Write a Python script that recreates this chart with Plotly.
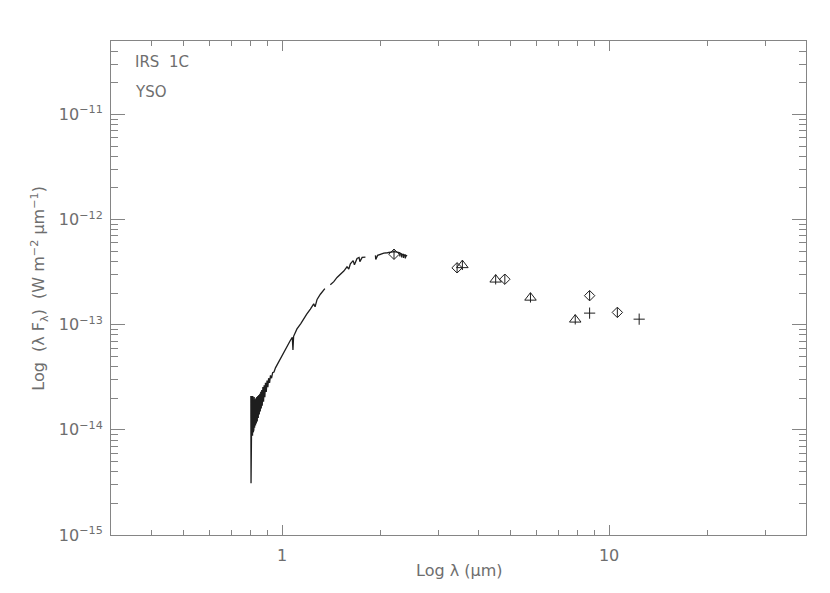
import plotly.graph_objects as go

# spectrum (micron, W m^-2 um^-1), None = gap
spec_wave = [0.8030, 0.8040, 0.8050, 0.8065, 0.8080, 0.8095, 0.8110, 0.8125, 0.8140, 0.8160,
             0.8180, 0.8200, 0.8220, 0.8245, 0.8270, 0.8295, 0.8320, 0.8345, 0.8370, 0.8400,
             0.8430, 0.8460, 0.8490, 0.8520, 0.8550, 0.8580, 0.8610, 0.8640, 0.8670, 0.8700,
             0.8740, 0.8780, 0.8820, 0.8860, 0.8900, 0.8950, 0.9000, 0.9050, 0.9100, 0.9160,
             0.9220, 0.9290, 0.9360, 0.9450, 0.955, 0.970, 0.990, 1.010, 1.035, 1.060,
             1.075, 1.080, 1.085, 1.111, 1.140, 1.165, 1.190, 1.221, 1.250, 1.262,
             1.270, 1.280, 1.310, 1.342, 1.352, None,
             1.405, 1.440, 1.473, 1.500, 1.545, 1.580, 1.600, 1.618, 1.650, 1.665,
             1.696, 1.720, 1.730, 1.758, 1.799, None,
             1.930, 1.935, 1.960, 2.000, 2.048, 2.100, 2.146, 2.200, 2.250, 2.290,
             2.293, 2.300, 2.320, 2.323, 2.330, 2.350, 2.353, 2.360, 2.380, 2.383,
             2.390, 2.414]
spec_flux = [2.1e-14, 3.1e-15, 2.05e-14, 8.5e-15, 2.1e-14, 9.0e-15, 1.95e-14, 8.8e-15, 2.1e-14, 9.5e-15,
             1.9e-14, 1.0e-14, 2.05e-14, 1.05e-14, 1.95e-14, 1.1e-14, 2.0e-14, 1.15e-14, 2.05e-14, 1.2e-14,
             2.1e-14, 1.3e-14, 2.15e-14, 1.4e-14, 2.2e-14, 1.5e-14, 2.3e-14, 1.6e-14, 2.4e-14, 1.7e-14,
             2.55e-14, 1.85e-14, 2.65e-14, 2.05e-14, 2.8e-14, 2.3e-14, 2.95e-14, 2.55e-14, 3.1e-14, 2.8e-14,
             3.3e-14, 3.1e-14, 3.5e-14, 3.55e-14, 3.89e-14, 4.27e-14, 4.79e-14, 5.37e-14, 6.17e-14, 7.08e-14,
             7.59e-14, 5.75e-14, 7.76e-14, 9.12e-14, 1.02e-13, 1.15e-13, 1.26e-13, 1.41e-13, 1.58e-13, 1.48e-13,
             1.66e-13, 1.74e-13, 1.95e-13, 2.14e-13, 2.21e-13, None,
             2.40e-13, 2.57e-13, 2.82e-13, 2.95e-13, 3.24e-13, 3.55e-13, 3.39e-13, 3.80e-13, 4.07e-13, 3.72e-13,
             4.27e-13, 4.37e-13, 3.98e-13, 4.37e-13, 4.40e-13, None,
             4.57e-13, 4.17e-13, 4.57e-13, 4.68e-13, 4.79e-13, 4.84e-13, 4.90e-13, 4.95e-13, 4.90e-13, 4.84e-13,
             4.47e-13, 4.79e-13, 4.73e-13, 4.37e-13, 4.68e-13, 4.68e-13, 4.32e-13, 4.62e-13, 4.62e-13, 4.27e-13,
             4.57e-13, 4.52e-13]

diam_wave = [2.2, 3.43, 4.80, 8.72, 10.60]
diam_flux = [4.68e-13, 3.48e-13, 2.71e-13, 1.89e-13, 1.31e-13]

tri_wave = [3.56, 4.50, 5.75, 7.88]
tri_flux = [3.69e-13, 2.69e-13, 1.81e-13, 1.12e-13]

plus_wave = [8.72, 12.36]
plus_flux = [1.29e-13, 1.13e-13]

x_ticks = [1, 10]
x_ticktext = ["1", "10"]
x_minor = [0.3, 0.4, 0.5, 0.6, 0.7, 0.8, 0.9, 2, 3, 4, 5, 6, 7, 8, 9, 20, 30, 40]
y_ticks = [1e-15, 1e-14, 1e-13, 1e-12, 1e-11]
y_ticktext = ["10<sup>\u221215</sup>", "10<sup>\u221214</sup>", "10<sup>\u221213</sup>",
              "10<sup>\u221212</sup>", "10<sup>\u221211</sup>"]
y_minor = [m * 10.0 ** e for e in range(-15, -10) for m in range(2, 10)]

axis_col = "#858585"
text_col = "#6e6e6e"
ink = "#1e1e1e"
fnt = "DejaVu Sans"
sp = "\u00a0"

fig = go.Figure()
fig.add_trace(go.Scatter(x=spec_wave, y=spec_flux, mode="lines",
                         line=dict(color=ink, width=1.3), connectgaps=False))
fig.add_trace(go.Scatter(x=diam_wave, y=diam_flux, mode="markers",
                         marker=dict(symbol="diamond-open", size=8, color=ink, line=dict(width=1))))
fig.add_trace(go.Scatter(x=tri_wave, y=tri_flux, mode="markers",
                         marker=dict(symbol="triangle-up-open", size=10, color=ink, line=dict(width=1))))
# little vertical bars drawn inside the symbols
fig.add_trace(go.Scatter(x=diam_wave + tri_wave, y=diam_flux + tri_flux, mode="markers",
                         marker=dict(symbol="line-ns-open", size=7, color=ink, line=dict(width=1, color=ink))))
fig.add_trace(go.Scatter(x=plus_wave, y=plus_flux, mode="markers",
                         marker=dict(symbol="cross-thin-open", size=8, color=ink,
                                     line=dict(width=1, color=ink))))

fig.update_layout(
    width=830, height=593,
    margin=dict(l=103, r=32, t=33, b=66),
    plot_bgcolor="white", paper_bgcolor="white",
    showlegend=False,
    font=dict(family=fnt, size=15, color=text_col),
)
fig.update_xaxes(
    type="log", range=[-0.5229, 1.6021],
    tickvals=x_ticks, ticktext=x_ticktext,
    ticks="inside", ticklen=10, tickcolor=axis_col, tickwidth=1,
    showline=True, linecolor=axis_col, linewidth=1, mirror="ticks",
    showgrid=False, zeroline=False, ticklabelstandoff=6,
    minor=dict(tickvals=x_minor, ticks="inside", ticklen=5, tickcolor=axis_col, showgrid=False),
    tickfont=dict(family=fnt, size=16, color=text_col),
)
fig.update_yaxes(
    type="log", range=[-15, -10.301],
    tickvals=y_ticks, ticktext=y_ticktext,
    ticks="inside", ticklen=14, tickcolor=axis_col, tickwidth=1,
    showline=True, linecolor=axis_col, linewidth=1, mirror="ticks",
    showgrid=False, zeroline=False, ticklabelstandoff=4,
    minor=dict(tickvals=y_minor, ticks="inside", ticklen=7, tickcolor=axis_col, showgrid=False),
    tickfont=dict(family=fnt, size=16, color=text_col),
)

fig.add_annotation(text="Log" + sp + "\u03bb" + sp + "(\u03bcm)", xref="paper", yref="paper",
                   x=0.5, y=-0.071, xanchor="center", yanchor="middle", showarrow=False,
                   font=dict(size=16))
fig.add_annotation(text="Log" + sp * 2 + "(\u03bb" + sp + "F<sub>\u03bb</sub>)" + sp * 2
                   + "(W" + sp + "m<sup>\u22122</sup>" + sp + "\u03bcm<sup>\u22121</sup>)",
                   xref="paper", yref="paper", x=-0.104, y=0.5, textangle=-90,
                   xanchor="center", yanchor="middle", showarrow=False, font=dict(size=16))
fig.add_annotation(text="IRS" + sp * 2 + "1C", xref="paper", yref="paper", x=0.031, y=0.958,
                   xanchor="left", yanchor="middle", showarrow=False, font=dict(size=15))
fig.add_annotation(text="YSO", xref="paper", yref="paper", x=0.031, y=0.897,
                   xanchor="left", yanchor="middle", showarrow=False, font=dict(size=15))

fig.write_html("out.html")
